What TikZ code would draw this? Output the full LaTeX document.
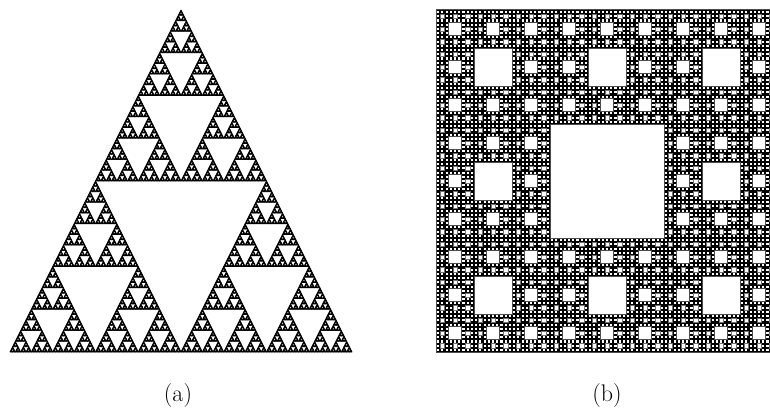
\documentclass[tikz,border=0pt]{standalone}
\usepackage{tikz}
\newcommand\sierpT[4]{%
 \ifnum#1>0
  \begingroup
  \pgfmathsetmacro\hs{#4/2}%
  \pgfmathsetmacro\qs{#4/4}%
  \pgfmathsetmacro\xl{#2-\qs}%
  \pgfmathsetmacro\xr{#2+\qs}%
  \pgfmathsetmacro\ym{#3-\hs}%
  \edef\next{%
    \noexpand\sierpT{\the\numexpr#1-1\relax}{#2}{#3}{\hs}%
    \noexpand\sierpT{\the\numexpr#1-1\relax}{\xl}{\ym}{\hs}%
    \noexpand\sierpT{\the\numexpr#1-1\relax}{\xr}{\ym}{\hs}}%
  \next
  \endgroup
 \else
  \begingroup
  \pgfmathsetmacro\hs{#4/2}%
  \pgfmathsetmacro\xl{#2-\hs}%
  \pgfmathsetmacro\xr{#2+\hs}%
  \pgfmathsetmacro\yb{#3-#4}%
  \filldraw[solidtri] (\xl,\yb) -- (\xr,\yb) -- (#2,#3) -- cycle;
  \endgroup
 \fi}
\newcommand\carpetS[4]{%
 \ifnum#1>0
  \begingroup
  \pgfmathsetmacro\ts{#4/3}%
  \pgfmathsetmacro\xa{#2+\ts}%
  \pgfmathsetmacro\xb{#2+2*\ts}%
  \pgfmathsetmacro\ya{#3+\ts}%
  \pgfmathsetmacro\yb{#3+2*\ts}%
  \ifnum#1>2
    \filldraw[sqhole] (\xa,\ya) rectangle (\xb,\yb);
  \else\ifnum#1=2
    \filldraw[smallhole] (\xa,\ya) rectangle (\xb,\yb);
  \else
    \fill[white] (\xa-0.35,\ya-0.35) rectangle (\xb+0.35,\yb+0.35);
  \fi\fi
  \edef\next{%
    \noexpand\carpetS{\the\numexpr#1-1\relax}{#2}{#3}{\ts}%
    \noexpand\carpetS{\the\numexpr#1-1\relax}{\xa}{#3}{\ts}%
    \noexpand\carpetS{\the\numexpr#1-1\relax}{\xb}{#3}{\ts}%
    \noexpand\carpetS{\the\numexpr#1-1\relax}{#2}{\ya}{\ts}%
    \noexpand\carpetS{\the\numexpr#1-1\relax}{\xb}{\ya}{\ts}%
    \noexpand\carpetS{\the\numexpr#1-1\relax}{#2}{\yb}{\ts}%
    \noexpand\carpetS{\the\numexpr#1-1\relax}{\xa}{\yb}{\ts}%
    \noexpand\carpetS{\the\numexpr#1-1\relax}{\xb}{\yb}{\ts}}%
  \next
  \endgroup
 \fi}
\begin{document}
\begin{tikzpicture}[x=1pt,y=1pt,
  solidtri/.style={fill=black,draw=black,line width=0.7pt,line join=round},
  sqhole/.style={fill=white,draw=black!70,line width=0.6pt},
  smallhole/.style={fill=white,draw=black!55,line width=0.45pt},
  lab/.style={font=\fontsize{24}{28}\selectfont,inner sep=0pt}]
\useasboundingbox (0,0) rectangle (770,410);
\clip (0,0) rectangle (770,410);
% Sierpinski triangle
\sierpT{7}{181}{400}{342}
% Sierpinski carpet
\filldraw[black, line width=1pt] (436,58) rectangle (778,400);
\carpetS{5}{436}{58}{342}
\draw[black!70, line width=1pt] (436,58) rectangle (778,400);
\node[lab] (la) at (178,14.5) {(a)};
\node[lab] (lb) at (607,14.5) {(b)};
\end{tikzpicture}
\end{document}
